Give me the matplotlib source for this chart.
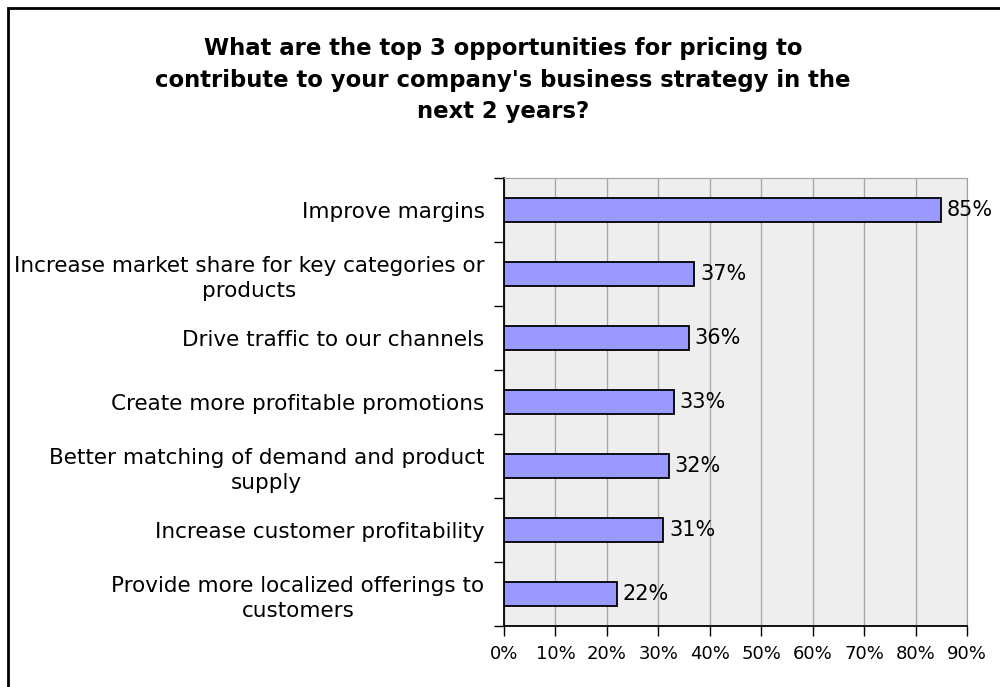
import matplotlib.pyplot as plt
from matplotlib.patches import Rectangle
import numpy as np

plt.rcParams['font.family'] = ['DejaVu Sans']

categories = [
    "Improve margins",
    "Increase market share for key categories or\nproducts",
    "Drive traffic to our channels",
    "Create more profitable promotions",
    "Better matching of demand and product\nsupply",
    "Increase customer profitability",
    "Provide more localized offerings to\ncustomers",
]
values = [85, 37, 36, 33, 32, 31, 22]
x_ticks = list(range(0, 100, 10))

fig = plt.figure(figsize=(10, 6.87), dpi=100)
ax = fig.add_axes([0.504, 1 - 626 / 687, 0.463, (626 - 178) / 687])

y = np.arange(len(categories))
ax.barh(y, values, height=0.385, color='#9999FF', edgecolor='black', linewidth=1.3, zorder=3)

# value labels to the right of each bar
for yi, v in zip(y, values):
    ax.text(v + 1.1, yi, f"{v}%", va='center', ha='left', fontsize=15, zorder=4)

ax.set_xlim(0, 90)
ax.set_ylim(len(categories) - 0.5, -0.5)
ax.set_facecolor('#EEEEEE')
ax.set_xticks(x_ticks)
ax.set_xticklabels([f"{t}%" for t in x_ticks], fontsize=13)
ax.grid(axis='x', color='#A8A8A8', linewidth=1, zorder=1)

ax.set_yticks(y)
ax.set_yticklabels(categories, fontsize=15.5, multialignment='center', linespacing=1.3)
ax.tick_params(axis='y', length=0, pad=14)

# tick marks sit on the category boundaries
ax.set_yticks(np.arange(-0.5, len(categories), 1), minor=True)
ax.tick_params(axis='y', which='minor', length=7, width=1, direction='out')
ax.tick_params(axis='x', length=7, width=1, direction='out', pad=7)

for s in ['left', 'bottom']:
    ax.spines[s].set_color('black')
    ax.spines[s].set_linewidth(1.3)
for s in ['top', 'right']:
    ax.spines[s].set_color('#A0A0A0')

fig.text(0.503, 1 - 80 / 687,
         "What are the top 3 opportunities for pricing to\n"
         "contribute to your company's business strategy in the\n"
         "next 2 years?",
         ha='center', va='center', fontsize=16.4, fontweight='bold', linespacing=1.47)

fig.patches.append(Rectangle((8 / 1000, -0.05), 1.1, 1 - 8 / 687 + 0.05,
                             transform=fig.transFigure, fill=False,
                             edgecolor='black', linewidth=2))

fig.savefig('out.png', dpi=100)
